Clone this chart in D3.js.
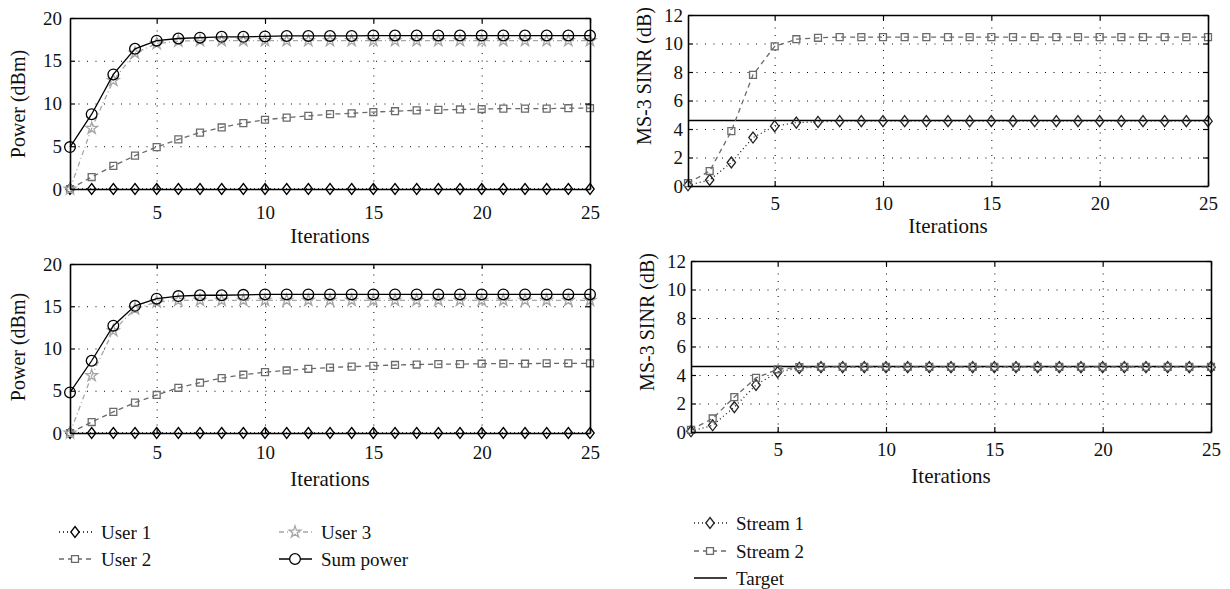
<!DOCTYPE html>
<html>
<head>
<meta charset="utf-8">
<script src="https://cdn.jsdelivr.net/npm/d3@7"></script>
<style>
  body { margin: 0; background: #fff; }
</style>
</head>
<body>
<script>
// iterations on the x axis
var iterations = [1, 2, 3, 4, 5, 6, 7, 8, 9, 10, 11, 12, 13, 14, 15, 16, 17, 18, 19, 20, 21, 22, 23, 24, 25];
var xTicks = [5, 10, 15, 20, 25];
var powerTicks = [0, 5, 10, 15, 20];
var sinrTicks = [0, 2, 4, 6, 8, 10, 12];

// top left: power per user
var user1A = [0, 0, 0, 0, 0, 0, 0, 0, 0, 0, 0, 0, 0, 0, 0, 0, 0, 0, 0, 0, 0, 0, 0, 0, 0];
var user2A = [0, 1.4, 2.7, 3.9, 4.9, 5.8, 6.6, 7.2, 7.7, 8.1, 8.35, 8.55, 8.75, 8.85, 9.0, 9.1, 9.2, 9.25, 9.3, 9.35, 9.4, 9.4, 9.4, 9.45, 9.45];
var user3A = [0, 7.1, 12.7, 15.9, 17.0, 17.3, 17.35, 17.35, 17.35, 17.35, 17.35, 17.35, 17.35, 17.35, 17.35, 17.35, 17.35, 17.35, 17.35, 17.35, 17.35, 17.35, 17.35, 17.35, 17.35];
var sumA = [4.9, 8.75, 13.4, 16.4, 17.35, 17.6, 17.7, 17.8, 17.8, 17.85, 17.9, 17.9, 17.9, 17.9, 17.95, 17.95, 17.95, 17.95, 17.95, 17.95, 17.95, 17.95, 17.95, 17.95, 17.95];

// bottom left
var user1B = [0, 0, 0, 0, 0, 0, 0, 0, 0, 0, 0, 0, 0, 0, 0, 0, 0, 0, 0, 0, 0, 0, 0, 0, 0];
var user2B = [0, 1.3, 2.5, 3.6, 4.5, 5.35, 5.95, 6.5, 6.9, 7.2, 7.4, 7.6, 7.75, 7.85, 7.95, 8.05, 8.1, 8.15, 8.15, 8.2, 8.2, 8.2, 8.25, 8.25, 8.25];
var user3B = [0, 6.8, 12.1, 14.7, 15.5, 15.7, 15.7, 15.7, 15.7, 15.7, 15.7, 15.7, 15.7, 15.7, 15.7, 15.7, 15.7, 15.7, 15.7, 15.7, 15.7, 15.7, 15.7, 15.7, 15.7];
var sumB = [4.8, 8.55, 12.7, 15.05, 15.9, 16.2, 16.3, 16.3, 16.35, 16.4, 16.4, 16.4, 16.4, 16.4, 16.4, 16.4, 16.4, 16.4, 16.4, 16.4, 16.4, 16.4, 16.4, 16.4, 16.4];

// top right: MS-3 SINR per stream
var stream1A = [0.05, 0.42, 1.65, 3.4, 4.2, 4.45, 4.5, 4.55, 4.55, 4.55, 4.55, 4.55, 4.55, 4.55, 4.55, 4.55, 4.55, 4.55, 4.55, 4.55, 4.55, 4.55, 4.55, 4.55, 4.55];
var stream2A = [0.2, 1.05, 3.85, 7.8, 9.8, 10.3, 10.4, 10.45, 10.45, 10.45, 10.45, 10.45, 10.45, 10.45, 10.45, 10.45, 10.45, 10.45, 10.45, 10.45, 10.45, 10.45, 10.45, 10.45, 10.45];

// bottom right
var stream1B = [0.05, 0.47, 1.75, 3.3, 4.2, 4.5, 4.55, 4.55, 4.55, 4.55, 4.55, 4.55, 4.55, 4.55, 4.55, 4.55, 4.55, 4.55, 4.55, 4.55, 4.55, 4.55, 4.55, 4.55, 4.55];
var stream2B = [0.15, 0.95, 2.45, 3.8, 4.4, 4.55, 4.57, 4.57, 4.57, 4.57, 4.57, 4.57, 4.57, 4.57, 4.57, 4.57, 4.57, 4.57, 4.57, 4.57, 4.57, 4.57, 4.57, 4.57, 4.57];

var targetSinr = 4.6;

var FONT = '"Liberation Serif", "Times New Roman", serif';
var svg = d3.select('body').append('svg').attr('width', 1230).attr('height', 589)
  .style('font-family', FONT);

var diamond = 'M0,-5.5L4.2,0L0,5.5L-4.2,0Z';
var styles = {
  user1: { color: '#000', dash: '1,3', marker: 'diamond' },
  user2: { color: '#6a6a6a', dash: '5,4', marker: 'square' },
  user3: { color: '#a6a6a6', dash: '5,3,1,3', marker: 'star' },
  sum: { color: '#000', dash: null, marker: 'circle' },
  stream1: { color: '#222', dash: '1,3', marker: 'diamond' },
  stream2: { color: '#6a6a6a', dash: '5,4', marker: 'square' },
  target: { color: '#000', dash: null, marker: null }
};

function markerPath(kind) {
  if (kind === 'diamond') return diamond;
  if (kind === 'square') return d3.symbol(d3.symbolSquare, 48)();
  if (kind === 'star') return d3.symbol(d3.symbolStar, 42)();
  if (kind === 'circle') return d3.symbol(d3.symbolCircle, 90)();
  return null;
}

var panels = [
  { x0: 70, x1: 590, y0: 18, y1: 189, ydom: [0, 20], yticks: powerTicks, ylabel: 'Power (dBm)', ylabX: 18, ylabY: 104, xlabY: 243, xtickOff: 23, ytickPad: 8,
    series: [['user1', user1A], ['user2', user2A], ['user3', user3A], ['sum', sumA]] },
  { x0: 688, x1: 1208, y0: 15, y1: 186, ydom: [0, 12], yticks: sinrTicks, ylabel: 'MS-3 SINR (dB)', ylabX: 644, ylabY: 76, xlabY: 233, xtickOff: 17, ytickPad: 5, target: true,
    series: [['stream1', stream1A], ['stream2', stream2A]] },
  { x0: 70, x1: 590, y0: 264, y1: 433, ydom: [0, 20], yticks: powerTicks, ylabel: 'Power (dBm)', ylabX: 18, ylabY: 347, xlabY: 486, xtickOff: 19, ytickPad: 8,
    series: [['user1', user1B], ['user2', user2B], ['user3', user3B], ['sum', sumB]] },
  { x0: 691, x1: 1211, y0: 261, y1: 432, ydom: [0, 12], yticks: sinrTicks, ylabel: 'MS-3 SINR (dB)', ylabX: 647, ylabY: 322, xlabY: 483, xtickOff: 17, ytickPad: 5, target: true,
    series: [['stream1', stream1B], ['stream2', stream2B]] }
];

panels.forEach(function(p) {
  var x = d3.scaleLinear().domain([1, 25]).range([p.x0, p.x1]);
  var y = d3.scaleLinear().domain(p.ydom).range([p.y1, p.y0]);
  var g = svg.append('g');
  var w = p.x1 - p.x0, h = p.y1 - p.y0;

  // dotted grid
  g.append('g').attr('transform', 'translate(0,' + p.y1 + ')')
    .call(d3.axisBottom(x).tickValues(xTicks.slice(0, -1)).tickSize(-h).tickFormat(''))
    .call(function(a) { a.select('.domain').remove(); })
    .selectAll('line').attr('stroke', '#000').attr('stroke-width', 1).attr('stroke-dasharray', '1,6.5');
  g.append('g').attr('transform', 'translate(' + p.x0 + ',0)')
    .call(d3.axisLeft(y).tickValues(p.yticks.slice(1, -1)).tickSize(-w).tickFormat(''))
    .call(function(a) { a.select('.domain').remove(); })
    .selectAll('line').attr('stroke', '#000').attr('stroke-width', 1).attr('stroke-dasharray', '1,7.5');

  // target line
  if (p.target) {
    g.append('line')
      .attr('x1', x(1)).attr('x2', x(25))
      .attr('y1', y(targetSinr)).attr('y2', y(targetSinr))
      .attr('stroke', '#000').attr('stroke-width', 1.4);
  }

  // series
  p.series.forEach(function(s) {
    var st = styles[s[0]];
    var line = d3.line().x(function(d, i) { return x(iterations[i]); }).y(function(d) { return y(d); });
    g.append('path').datum(s[1])
      .attr('d', line)
      .attr('fill', 'none')
      .attr('stroke', st.color)
      .attr('stroke-width', 1.3)
      .attr('stroke-dasharray', st.dash);
    g.selectAll(null).data(s[1]).enter().append('path')
      .attr('d', markerPath(st.marker))
      .attr('transform', function(d, i) { return 'translate(' + x(iterations[i]) + ',' + y(d) + ')'; })
      .attr('fill', 'none')
      .attr('stroke', st.color)
      .attr('stroke-width', 1.3);
  });

  // axes, ticks inward on all four sides
  var bottom = g.append('g').attr('transform', 'translate(0,' + p.y1 + ')')
    .call(d3.axisBottom(x).tickValues(xTicks).tickSize(-5).tickSizeOuter(0).tickPadding(p.xtickOff - 6));
  var top = g.append('g').attr('transform', 'translate(0,' + p.y0 + ')')
    .call(d3.axisTop(x).tickValues(xTicks).tickSize(-5).tickSizeOuter(0).tickFormat(''));
  var left = g.append('g').attr('transform', 'translate(' + p.x0 + ',0)')
    .call(d3.axisLeft(y).tickValues(p.yticks).tickSize(-5).tickSizeOuter(0).tickPadding(p.ytickPad));
  var right = g.append('g').attr('transform', 'translate(' + p.x1 + ',0)')
    .call(d3.axisRight(y).tickValues(p.yticks).tickSize(-5).tickSizeOuter(0).tickFormat(''));
  [bottom, top, left, right].forEach(function(a) {
    a.attr('font-family', null);
    a.select('.domain').attr('stroke', '#000').attr('stroke-width', 1.6);
    a.selectAll('.tick line').attr('stroke', '#000').attr('stroke-width', 1.2);
    a.selectAll('text').style('font-family', FONT).attr('font-size', 19).attr('fill', '#111');
  });

  g.append('text')
    .attr('x', (p.x0 + p.x1) / 2).attr('y', p.xlabY)
    .attr('text-anchor', 'middle').attr('font-size', 21).attr('fill', '#111')
    .style('font-family', FONT)
    .text('Iterations');
  g.append('text')
    .attr('transform', 'translate(' + (p.ylabX + 7) + ',' + p.ylabY + ') rotate(-90)')
    .attr('text-anchor', 'middle').attr('font-size', 20).attr('fill', '#111')
    .style('font-family', FONT)
    .text(p.ylabel);
});

// legends
var legendItems = [
  { key: 'user1', label: 'User 1', x: 75, y: 532 },
  { key: 'user2', label: 'User 2', x: 75, y: 559 },
  { key: 'user3', label: 'User 3', x: 295, y: 532 },
  { key: 'sum', label: 'Sum power', x: 295, y: 559 },
  { key: 'stream1', label: 'Stream 1', x: 710, y: 523 },
  { key: 'stream2', label: 'Stream 2', x: 710, y: 551 },
  { key: 'target', label: 'Target', x: 710, y: 578 }
];

var lg = svg.append('g').selectAll('g').data(legendItems).enter().append('g')
  .attr('transform', function(d) { return 'translate(' + d.x + ',' + d.y + ')'; });
lg.append('line')
  .attr('x1', -16).attr('x2', 17).attr('y1', 0).attr('y2', 0)
  .attr('stroke', function(d) { return styles[d.key].color; })
  .attr('stroke-width', 1.3)
  .attr('stroke-dasharray', function(d) { return styles[d.key].dash; });
lg.filter(function(d) { return styles[d.key].marker; }).append('path')
  .attr('d', function(d) { return markerPath(styles[d.key].marker); })
  .attr('fill', '#fff')
  .attr('stroke', function(d) { return styles[d.key].color; })
  .attr('stroke-width', 1.3);
lg.append('text')
  .attr('x', 26).attr('dy', '0.35em')
  .attr('font-size', 19).attr('fill', '#111')
  .style('font-family', FONT)
  .text(function(d) { return d.label; });
</script>
</body>
</html>
